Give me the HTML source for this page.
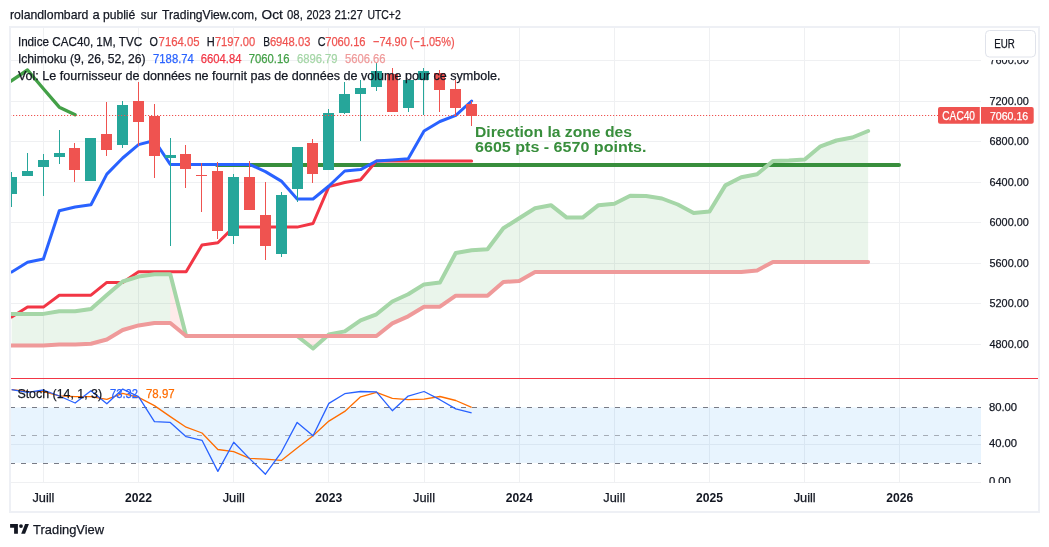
<!DOCTYPE html><html><head><meta charset="utf-8"><style>html,body{margin:0;padding:0;background:#fff;}svg{display:block;will-change:transform}text{font-family:"Liberation Sans",sans-serif}</style></head><body>
<svg width="1049" height="547" viewBox="0 0 1049 547">
<defs><clipPath id="pane"><rect x="11" y="28" width="970" height="350"/></clipPath><clipPath id="pane2"><rect x="11" y="379" width="970" height="104"/></clipPath></defs>
<text x="10" y="19" font-size="13" fill="#131722" textLength="78.4" lengthAdjust="spacingAndGlyphs" stroke="#131722" stroke-width="0.25" >rolandlombard</text>
<text x="92.6" y="19" font-size="13" fill="#131722" textLength="7.2" lengthAdjust="spacingAndGlyphs" stroke="#131722" stroke-width="0.25" >a</text>
<text x="102.9" y="19" font-size="13" fill="#131722" textLength="32.4" lengthAdjust="spacingAndGlyphs" stroke="#131722" stroke-width="0.25" >publié</text>
<text x="140.7" y="19" font-size="13" fill="#131722" textLength="16.6" lengthAdjust="spacingAndGlyphs" stroke="#131722" stroke-width="0.25" >sur</text>
<text x="162.1" y="19" font-size="13" fill="#131722" textLength="95.3" lengthAdjust="spacingAndGlyphs" stroke="#131722" stroke-width="0.25" >TradingView.com,</text>
<text x="261.6" y="19" font-size="13" fill="#131722" textLength="21.2" lengthAdjust="spacingAndGlyphs" stroke="#131722" stroke-width="0.25" >Oct</text>
<text x="287" y="19" font-size="13" fill="#131722" textLength="15.8" lengthAdjust="spacingAndGlyphs" stroke="#131722" stroke-width="0.25" >08,</text>
<text x="306.6" y="19" font-size="13" fill="#131722" textLength="24.1" lengthAdjust="spacingAndGlyphs" stroke="#131722" stroke-width="0.25" >2023</text>
<text x="334.5" y="19" font-size="13" fill="#131722" textLength="28.4" lengthAdjust="spacingAndGlyphs" stroke="#131722" stroke-width="0.25" >21:27</text>
<text x="367.4" y="19" font-size="13" fill="#131722" textLength="33.4" lengthAdjust="spacingAndGlyphs" stroke="#131722" stroke-width="0.25" >UTC+2</text>
<rect x="10" y="27" width="1029" height="485" fill="none" stroke="#eef0f5" stroke-width="2"/>
<rect x="43" y="28" width="1" height="455" fill="#eff0f2"/>
<rect x="138" y="28" width="1" height="455" fill="#eff0f2"/>
<rect x="233" y="28" width="1" height="455" fill="#eff0f2"/>
<rect x="328" y="28" width="1" height="455" fill="#eff0f2"/>
<rect x="424" y="28" width="1" height="455" fill="#eff0f2"/>
<rect x="519" y="28" width="1" height="455" fill="#eff0f2"/>
<rect x="614" y="28" width="1" height="455" fill="#eff0f2"/>
<rect x="709" y="28" width="1" height="455" fill="#eff0f2"/>
<rect x="804" y="28" width="1" height="455" fill="#eff0f2"/>
<rect x="899" y="28" width="1" height="455" fill="#eff0f2"/>
<rect x="11" y="60" width="970" height="1" fill="#eff0f2"/>
<rect x="11" y="101" width="970" height="1" fill="#eff0f2"/>
<rect x="11" y="141" width="970" height="1" fill="#eff0f2"/>
<rect x="11" y="182" width="970" height="1" fill="#eff0f2"/>
<rect x="11" y="222" width="970" height="1" fill="#eff0f2"/>
<rect x="11" y="263" width="970" height="1" fill="#eff0f2"/>
<rect x="11" y="303" width="970" height="1" fill="#eff0f2"/>
<rect x="11" y="344" width="970" height="1" fill="#eff0f2"/>
<rect x="11" y="444" width="970" height="1" fill="#eff0f2"/>
<rect x="11" y="482" width="970" height="1" fill="#eff0f2"/>
<g clip-path="url(#pane)">
<line x1="217" y1="165" x2="899" y2="165" stroke="#388e3c" stroke-width="4" stroke-linecap="round"/>
<polygon points="11.68,313.9 27.54,313.9 43.4,313.9 59.26,311.3 75.12,311.3 90.98,308.9 106.84,295 122.7,281.5 138.56,276.6 154.42,274.2 170.28,274.2 170.28,323 154.42,323 138.56,325.4 122.7,330 106.84,339.5 90.98,343.7 75.12,344.5 59.26,344.6 43.4,345.5 27.54,345.5 11.68,345.5" fill="rgba(67,160,71,0.11)"/>
<polygon points="170.28,274.2 186.14,336 186.14,336 170.28,323" fill="rgba(244,67,54,0.11)"/>
<polygon points="186.14,336 202,336 217.86,336 233.72,336 249.58,336 265.44,336 281.3,336 297.16,336 297.16,336 281.3,336 265.44,336 249.58,336 233.72,336 217.86,336 202,336 186.14,336" fill="rgba(67,160,71,0.11)"/>
<polygon points="297.16,336 313.02,348.5 327.08,336 327.08,336 313.02,336 297.16,336" fill="rgba(244,67,54,0.11)"/>
<polygon points="327.08,336 328.88,334.4 344.74,331.4 360.6,320.4 376.46,314.3 392.32,301.5 408.18,294.3 424.04,284.4 439.9,282.6 455.76,253 471.62,250.3 487.48,249.3 503.34,228.2 519.2,218.2 535.06,208.2 550.92,205.2 566.78,217.6 582.64,217.6 598.5,205.2 614.36,203.7 630.22,195.7 646.08,196 661.94,198.5 677.8,204.5 693.66,213 709.52,211.5 725.38,185.4 741.24,177.3 757.1,174.3 772.96,161 788.82,160.5 804.68,159.5 820.54,146.3 836.4,140.5 852.26,137.5 868.12,131 868.12,261.9 852.26,261.9 836.4,261.9 820.54,261.9 804.68,261.9 788.82,261.9 772.96,261.9 757.1,270.5 741.24,272 725.38,272 709.52,272 693.66,272 677.8,272 661.94,272 646.08,272 630.22,272 614.36,272 598.5,272 582.64,272 566.78,272 550.92,272 535.06,272 519.2,281 503.34,282 487.48,295.7 471.62,295.7 455.76,295.7 439.9,306.7 424.04,306.7 408.18,316.3 392.32,323.4 376.46,336 360.6,336 344.74,336 328.88,336 327.08,336" fill="rgba(67,160,71,0.11)"/>
<polyline points="11.68,317 27.54,307.1 43.4,307.1 59.26,295.2 75.12,295.2 90.98,295.2 106.84,282.4 122.7,282.4 138.56,271.8 154.42,271.8 170.28,271.8 186.14,271.8 202,245 217.86,242.7 233.72,227.1 249.58,227.1 265.44,227.1 281.3,227.1 297.16,227.1 313.02,223.5 328.88,186.6 344.74,182.5 360.6,179.7 376.46,161 392.32,161 408.18,161 424.04,161 439.9,161 455.76,161 471.62,161" fill="none" stroke="#f23645" stroke-width="3" stroke-linejoin="round" stroke-linecap="round"/>
<polyline points="11.68,272 27.54,262.3 43.4,259 59.26,210.7 75.12,207 90.98,204.7 106.84,174.1 122.7,158 138.56,144.6 154.42,140.5 170.28,164.4 186.14,164.4 202,164.4 217.86,164.4 233.72,164.4 249.58,164.4 265.44,171.6 281.3,181.1 297.16,199 313.02,199 328.88,186 344.74,171 360.6,169.6 376.46,161 392.32,160 408.18,158.7 424.04,131 439.9,121.5 455.76,115.4 471.62,101" fill="none" stroke="#2962ff" stroke-width="3" stroke-linejoin="round" stroke-linecap="round"/>
<polyline points="-4.18,91 11.68,80.5 27.54,70 43.4,88.8 59.26,107.2 75.12,114.8" fill="none" stroke="#43a047" stroke-width="3.3" stroke-linejoin="round" stroke-linecap="round"/>
<polyline points="11.68,313.9 27.54,313.9 43.4,313.9 59.26,311.3 75.12,311.3 90.98,308.9 106.84,295 122.7,281.5 138.56,276.6 154.42,274.2 170.28,274.2 186.14,336 202,336 217.86,336 233.72,336 249.58,336 265.44,336 281.3,336 297.16,336 313.02,348.5 328.88,334.4 344.74,331.4 360.6,320.4 376.46,314.3 392.32,301.5 408.18,294.3 424.04,284.4 439.9,282.6 455.76,253 471.62,250.3 487.48,249.3 503.34,228.2 519.2,218.2 535.06,208.2 550.92,205.2 566.78,217.6 582.64,217.6 598.5,205.2 614.36,203.7 630.22,195.7 646.08,196 661.94,198.5 677.8,204.5 693.66,213 709.52,211.5 725.38,185.4 741.24,177.3 757.1,174.3 772.96,161 788.82,160.5 804.68,159.5 820.54,146.3 836.4,140.5 852.26,137.5 868.12,131" fill="none" stroke="#a5d6a7" stroke-width="4" stroke-linejoin="round" stroke-linecap="round"/>
<polyline points="11.68,345.5 27.54,345.5 43.4,345.5 59.26,344.6 75.12,344.5 90.98,343.7 106.84,339.5 122.7,330 138.56,325.4 154.42,323 170.28,323 186.14,336 202,336 217.86,336 233.72,336 249.58,336 265.44,336 281.3,336 297.16,336 313.02,336 328.88,336 344.74,336 360.6,336 376.46,336 392.32,323.4 408.18,316.3 424.04,306.7 439.9,306.7 455.76,295.7 471.62,295.7 487.48,295.7 503.34,282 519.2,281 535.06,272 550.92,272 566.78,272 582.64,272 598.5,272 614.36,272 630.22,272 646.08,272 661.94,272 677.8,272 693.66,272 709.52,272 725.38,272 741.24,272 757.1,270.5 772.96,261.9 788.82,261.9 804.68,261.9 820.54,261.9 836.4,261.9 852.26,261.9 868.12,261.9" fill="none" stroke="#ef9a9a" stroke-width="4" stroke-linejoin="round" stroke-linecap="round"/>
<rect x="11" y="172" width="1" height="35" fill="#26a69a"/>
<rect x="6" y="177" width="11" height="17" fill="#26a69a"/>
<rect x="27" y="153" width="1" height="23" fill="#26a69a"/>
<rect x="22" y="171" width="11" height="5" fill="#26a69a"/>
<rect x="43" y="154" width="1" height="42" fill="#26a69a"/>
<rect x="38" y="160" width="11" height="7" fill="#26a69a"/>
<rect x="59" y="130" width="1" height="34" fill="#26a69a"/>
<rect x="54" y="153" width="11" height="4" fill="#26a69a"/>
<rect x="74" y="143" width="1" height="39" fill="#ef5350"/>
<rect x="69" y="148" width="11" height="22" fill="#ef5350"/>
<rect x="90" y="138" width="1" height="43" fill="#26a69a"/>
<rect x="85" y="138" width="11" height="43" fill="#26a69a"/>
<rect x="106" y="102" width="1" height="54" fill="#ef5350"/>
<rect x="101" y="134" width="11" height="16" fill="#ef5350"/>
<rect x="122" y="101" width="1" height="47" fill="#26a69a"/>
<rect x="117" y="105" width="11" height="40" fill="#26a69a"/>
<rect x="138" y="82" width="1" height="64" fill="#ef5350"/>
<rect x="133" y="101" width="11" height="21" fill="#ef5350"/>
<rect x="154" y="104" width="1" height="74" fill="#ef5350"/>
<rect x="149" y="116" width="11" height="40" fill="#ef5350"/>
<rect x="170" y="138" width="1" height="108" fill="#26a69a"/>
<rect x="165" y="155" width="11" height="3" fill="#26a69a"/>
<rect x="185" y="145" width="1" height="43" fill="#ef5350"/>
<rect x="180" y="154" width="11" height="15" fill="#ef5350"/>
<rect x="201" y="163" width="1" height="49" fill="#ef5350"/>
<rect x="196" y="175" width="11" height="1" fill="#ef5350"/>
<rect x="217" y="162" width="1" height="77" fill="#ef5350"/>
<rect x="212" y="171" width="11" height="60" fill="#ef5350"/>
<rect x="233" y="174" width="1" height="70" fill="#26a69a"/>
<rect x="228" y="177" width="11" height="59" fill="#26a69a"/>
<rect x="249" y="161" width="1" height="49" fill="#ef5350"/>
<rect x="244" y="177" width="11" height="33" fill="#ef5350"/>
<rect x="265" y="182" width="1" height="78" fill="#ef5350"/>
<rect x="260" y="215" width="11" height="31" fill="#ef5350"/>
<rect x="281" y="192" width="1" height="65" fill="#26a69a"/>
<rect x="276" y="195" width="11" height="59" fill="#26a69a"/>
<rect x="297" y="147" width="1" height="55" fill="#26a69a"/>
<rect x="292" y="147" width="11" height="42" fill="#26a69a"/>
<rect x="312" y="139" width="1" height="44" fill="#ef5350"/>
<rect x="307" y="143" width="11" height="31" fill="#ef5350"/>
<rect x="328" y="109" width="1" height="61" fill="#26a69a"/>
<rect x="323" y="113" width="11" height="57" fill="#26a69a"/>
<rect x="344" y="82" width="1" height="32" fill="#26a69a"/>
<rect x="339" y="94" width="11" height="19" fill="#26a69a"/>
<rect x="360" y="80" width="1" height="61" fill="#26a69a"/>
<rect x="355" y="88" width="11" height="6" fill="#26a69a"/>
<rect x="376" y="63" width="1" height="28" fill="#26a69a"/>
<rect x="371" y="71" width="11" height="16" fill="#26a69a"/>
<rect x="392" y="68" width="1" height="44" fill="#ef5350"/>
<rect x="387" y="74" width="11" height="38" fill="#ef5350"/>
<rect x="408" y="80" width="1" height="32" fill="#26a69a"/>
<rect x="403" y="80" width="11" height="28" fill="#26a69a"/>
<rect x="423" y="68" width="1" height="47" fill="#26a69a"/>
<rect x="418" y="71" width="11" height="9" fill="#26a69a"/>
<rect x="439" y="70" width="1" height="42" fill="#ef5350"/>
<rect x="434" y="73" width="11" height="17" fill="#ef5350"/>
<rect x="455" y="80" width="1" height="36" fill="#ef5350"/>
<rect x="450" y="89" width="11" height="19" fill="#ef5350"/>
<rect x="471" y="101" width="1" height="25" fill="#ef5350"/>
<rect x="466" y="104" width="11" height="12" fill="#ef5350"/>
<line x1="10" y1="115.5" x2="938" y2="115.5" stroke="#ef5350" stroke-width="1" stroke-dasharray="1.2 1.8"/>
</g>
<text x="475" y="136.7" font-size="14" fill="#388e3c" textLength="157" lengthAdjust="spacingAndGlyphs" font-weight="bold" >Direction la zone des</text>
<text x="475" y="152.4" font-size="14" fill="#388e3c" textLength="171.5" lengthAdjust="spacingAndGlyphs" font-weight="bold" >6605 pts - 6570 points.</text>
<text x="17.9" y="45.7" font-size="13" fill="#131722" textLength="124.3" lengthAdjust="spacingAndGlyphs" stroke="#131722" stroke-width="0.25" >Indice CAC40, 1M, TVC</text>
<text x="149.4" y="45.7" font-size="13" fill="#131722" textLength="8.4" lengthAdjust="spacingAndGlyphs" stroke="#131722" stroke-width="0.25" >O</text>
<text x="158.6" y="45.7" font-size="13" fill="#ef5350" textLength="40.9" lengthAdjust="spacingAndGlyphs" stroke="#ef5350" stroke-width="0.25" >7164.05</text>
<text x="206.7" y="45.7" font-size="13" fill="#131722" textLength="8" lengthAdjust="spacingAndGlyphs" stroke="#131722" stroke-width="0.25" >H</text>
<text x="214.9" y="45.7" font-size="13" fill="#ef5350" textLength="40.3" lengthAdjust="spacingAndGlyphs" stroke="#ef5350" stroke-width="0.25" >7197.00</text>
<text x="263.3" y="45.7" font-size="13" fill="#131722" textLength="6.8" lengthAdjust="spacingAndGlyphs" stroke="#131722" stroke-width="0.25" >B</text>
<text x="269.9" y="45.7" font-size="13" fill="#ef5350" textLength="40.5" lengthAdjust="spacingAndGlyphs" stroke="#ef5350" stroke-width="0.25" >6948.03</text>
<text x="317.8" y="45.7" font-size="13" fill="#131722" textLength="7.8" lengthAdjust="spacingAndGlyphs" stroke="#131722" stroke-width="0.25" >C</text>
<text x="325.2" y="45.7" font-size="13" fill="#ef5350" textLength="40.4" lengthAdjust="spacingAndGlyphs" stroke="#ef5350" stroke-width="0.25" >7060.16</text>
<text x="373" y="45.7" font-size="13" fill="#ef5350" textLength="81.6" lengthAdjust="spacingAndGlyphs" stroke="#ef5350" stroke-width="0.25" >−74.90 (−1.05%)</text>
<text x="17.9" y="62.5" font-size="13" fill="#131722" textLength="127.7" lengthAdjust="spacingAndGlyphs" stroke="#131722" stroke-width="0.25" >Ichimoku (9, 26, 52, 26)</text>
<text x="153.1" y="62.5" font-size="13" fill="#2962ff" textLength="40.7" lengthAdjust="spacingAndGlyphs" stroke="#2962ff" stroke-width="0.25" >7188.74</text>
<text x="200.8" y="62.5" font-size="13" fill="#f23645" textLength="40.7" lengthAdjust="spacingAndGlyphs" stroke="#f23645" stroke-width="0.25" >6604.84</text>
<text x="248.8" y="62.5" font-size="13" fill="#43a047" textLength="40.7" lengthAdjust="spacingAndGlyphs" stroke="#43a047" stroke-width="0.25" >7060.16</text>
<text x="296.9" y="62.5" font-size="13" fill="#a5d6a7" textLength="40.7" lengthAdjust="spacingAndGlyphs" stroke="#a5d6a7" stroke-width="0.25" >6896.79</text>
<text x="345" y="62.5" font-size="13" fill="#ef9a9a" textLength="40.6" lengthAdjust="spacingAndGlyphs" stroke="#ef9a9a" stroke-width="0.25" >5606.66</text>
<text x="17.9" y="79.5" font-size="13" fill="#131722" textLength="482.7" lengthAdjust="spacingAndGlyphs" stroke="#131722" stroke-width="0.25" >Vol: Le fournisseur de données ne fournit pas de données de volume pour ce symbole.</text>
<text x="989.5" y="64" font-size="11.5" fill="#131722" textLength="39.3" lengthAdjust="spacingAndGlyphs" stroke="#131722" stroke-width="0.25" >7600.00</text>
<text x="989.5" y="105" font-size="11.5" fill="#131722" textLength="39.3" lengthAdjust="spacingAndGlyphs" stroke="#131722" stroke-width="0.25" >7200.00</text>
<text x="989.5" y="145" font-size="11.5" fill="#131722" textLength="39.3" lengthAdjust="spacingAndGlyphs" stroke="#131722" stroke-width="0.25" >6800.00</text>
<text x="989.5" y="186" font-size="11.5" fill="#131722" textLength="39.3" lengthAdjust="spacingAndGlyphs" stroke="#131722" stroke-width="0.25" >6400.00</text>
<text x="989.5" y="226" font-size="11.5" fill="#131722" textLength="39.3" lengthAdjust="spacingAndGlyphs" stroke="#131722" stroke-width="0.25" >6000.00</text>
<text x="989.5" y="267" font-size="11.5" fill="#131722" textLength="39.3" lengthAdjust="spacingAndGlyphs" stroke="#131722" stroke-width="0.25" >5600.00</text>
<text x="989.5" y="307" font-size="11.5" fill="#131722" textLength="39.3" lengthAdjust="spacingAndGlyphs" stroke="#131722" stroke-width="0.25" >5200.00</text>
<text x="989.5" y="348" font-size="11.5" fill="#131722" textLength="39.3" lengthAdjust="spacingAndGlyphs" stroke="#131722" stroke-width="0.25" >4800.00</text>
<rect x="982" y="28" width="56" height="32" fill="#fff"/>
<rect x="985.5" y="30.5" width="50" height="26.5" rx="4" fill="#fff" stroke="#e0e3eb" stroke-width="1"/>
<text x="994.2" y="47.6" font-size="12" fill="#131722" textLength="20.6" lengthAdjust="spacingAndGlyphs" stroke="#131722" stroke-width="0.25" >EUR</text>
<path d="M940,107 H979.8 V123.8 H940 a2,2 0 0 1 -2,-2 V109 a2,2 0 0 1 2,-2 Z" fill="#ef5350"/>
<path d="M981,107 H1031.7 a2,2 0 0 1 2,2 V121.8 a2,2 0 0 1 -2,2 H981 Z" fill="#ef5350"/>
<text x="942.3" y="119.6" font-size="12" fill="#fff" textLength="32.7" lengthAdjust="spacingAndGlyphs" stroke="#fff" stroke-width="0.25" >CAC40</text>
<text x="989.9" y="119.6" font-size="11.5" fill="#fff" textLength="38.3" lengthAdjust="spacingAndGlyphs" stroke="#fff" stroke-width="0.25" >7060.16</text>
<rect x="11" y="378" width="1027" height="1" fill="#f23645"/>
<g clip-path="url(#pane2)">
<rect x="11" y="407.4" width="970" height="55.5" fill="rgba(33,150,243,0.1)"/>
<line x1="10" y1="407.5" x2="981" y2="407.5" stroke="#787b86" stroke-width="1" stroke-dasharray="5 6"/>
<line x1="10" y1="435.5" x2="981" y2="435.5" stroke="rgba(120,123,134,0.6)" stroke-width="1" stroke-dasharray="5 6"/>
<line x1="10" y1="463.5" x2="981" y2="463.5" stroke="#787b86" stroke-width="1" stroke-dasharray="5 6"/>
<polyline points="11.68,389.6 27.54,391.3 43.4,391.7 59.26,395.8 75.12,396.7 90.98,396.7 106.84,399.4 122.7,393.4 138.56,397.4 154.42,405.6 170.28,416.6 186.14,427.2 202,433 217.86,449.5 233.72,451.7 249.58,458.3 265.44,459.2 281.3,460.4 297.16,448 313.02,435.8 328.88,421.1 344.74,411.4 360.6,396.8 376.46,392.4 392.32,398.3 408.18,399.7 424.04,399.2 439.9,396.5 455.76,400.5 471.62,407.4" fill="none" stroke="#ff6d00" stroke-width="1.3" stroke-linejoin="round"/>
<polyline points="11.68,389.6 27.54,392.3 43.4,390 59.26,396 75.12,403 90.98,390.7 106.84,403.8 122.7,389.1 138.56,396.7 154.42,421.7 170.28,422.4 186.14,436.7 202,440.3 217.86,471.4 233.72,442.2 249.58,458.6 265.44,474.2 281.3,452.3 297.16,422.4 313.02,435.8 328.88,403.4 344.74,393.7 360.6,391.5 376.46,391.9 392.32,410.7 408.18,396.1 424.04,391.5 439.9,399.7 455.76,408.9 471.62,412.9" fill="none" stroke="#2962ff" stroke-width="1.3" stroke-linejoin="round"/>
</g>
<text x="17.4" y="397.6" font-size="13" fill="#131722" textLength="84.7" lengthAdjust="spacingAndGlyphs" stroke="#131722" stroke-width="0.25" >Stoch (14, 1, 3)</text>
<text x="110" y="397.6" font-size="13" fill="#2962ff" textLength="28.1" lengthAdjust="spacingAndGlyphs" stroke="#2962ff" stroke-width="0.25" >73.32</text>
<text x="146" y="397.6" font-size="13" fill="#ff6d00" textLength="28.6" lengthAdjust="spacingAndGlyphs" stroke="#ff6d00" stroke-width="0.25" >78.97</text>
<text x="988.9" y="411" font-size="11.5" fill="#131722" textLength="28.2" lengthAdjust="spacingAndGlyphs" stroke="#131722" stroke-width="0.25" >80.00</text>
<text x="988.9" y="447.4" font-size="11.5" fill="#131722" textLength="28.2" lengthAdjust="spacingAndGlyphs" stroke="#131722" stroke-width="0.25" >40.00</text>
<svg x="980" y="470" width="60" height="13" overflow="hidden">
<text x="8.9" y="14.5" font-size="11.5" fill="#131722" textLength="22" lengthAdjust="spacingAndGlyphs" stroke="#131722" stroke-width="0.25" >0.00</text>
</svg>
<text x="43.4" y="502.2" font-size="12" fill="#131722" textLength="22" lengthAdjust="spacingAndGlyphs" stroke="#131722" stroke-width="0.25" text-anchor="middle" >Juill</text>
<text x="138.56" y="502.2" font-size="12" fill="#131722" textLength="27" lengthAdjust="spacingAndGlyphs" font-weight="bold" text-anchor="middle" >2022</text>
<text x="233.72" y="502.2" font-size="12" fill="#131722" textLength="22" lengthAdjust="spacingAndGlyphs" stroke="#131722" stroke-width="0.25" text-anchor="middle" >Juill</text>
<text x="328.88" y="502.2" font-size="12" fill="#131722" textLength="27" lengthAdjust="spacingAndGlyphs" font-weight="bold" text-anchor="middle" >2023</text>
<text x="424.04" y="502.2" font-size="12" fill="#131722" textLength="22" lengthAdjust="spacingAndGlyphs" stroke="#131722" stroke-width="0.25" text-anchor="middle" >Juill</text>
<text x="519.2" y="502.2" font-size="12" fill="#131722" textLength="27" lengthAdjust="spacingAndGlyphs" font-weight="bold" text-anchor="middle" >2024</text>
<text x="614.36" y="502.2" font-size="12" fill="#131722" textLength="22" lengthAdjust="spacingAndGlyphs" stroke="#131722" stroke-width="0.25" text-anchor="middle" >Juill</text>
<text x="709.52" y="502.2" font-size="12" fill="#131722" textLength="27" lengthAdjust="spacingAndGlyphs" font-weight="bold" text-anchor="middle" >2025</text>
<text x="804.68" y="502.2" font-size="12" fill="#131722" textLength="22" lengthAdjust="spacingAndGlyphs" stroke="#131722" stroke-width="0.25" text-anchor="middle" >Juill</text>
<text x="899.84" y="502.2" font-size="12" fill="#131722" textLength="27" lengthAdjust="spacingAndGlyphs" font-weight="bold" text-anchor="middle" >2026</text>
<path d="M10.1,523.9 H17.9 V533.7 H14.1 V527.7 H10.1 Z" fill="#131722"/>
<circle cx="21" cy="526.1" r="1.9" fill="#131722"/>
<path d="M25.1,523.9 H28.9 L25.1,533.7 H21.2 Z" fill="#131722"/>
<text x="33.1" y="533.9" font-size="13.5" fill="#131722" textLength="71" lengthAdjust="spacingAndGlyphs" stroke="#131722" stroke-width="0.25" >TradingView</text>
</svg></body></html>
